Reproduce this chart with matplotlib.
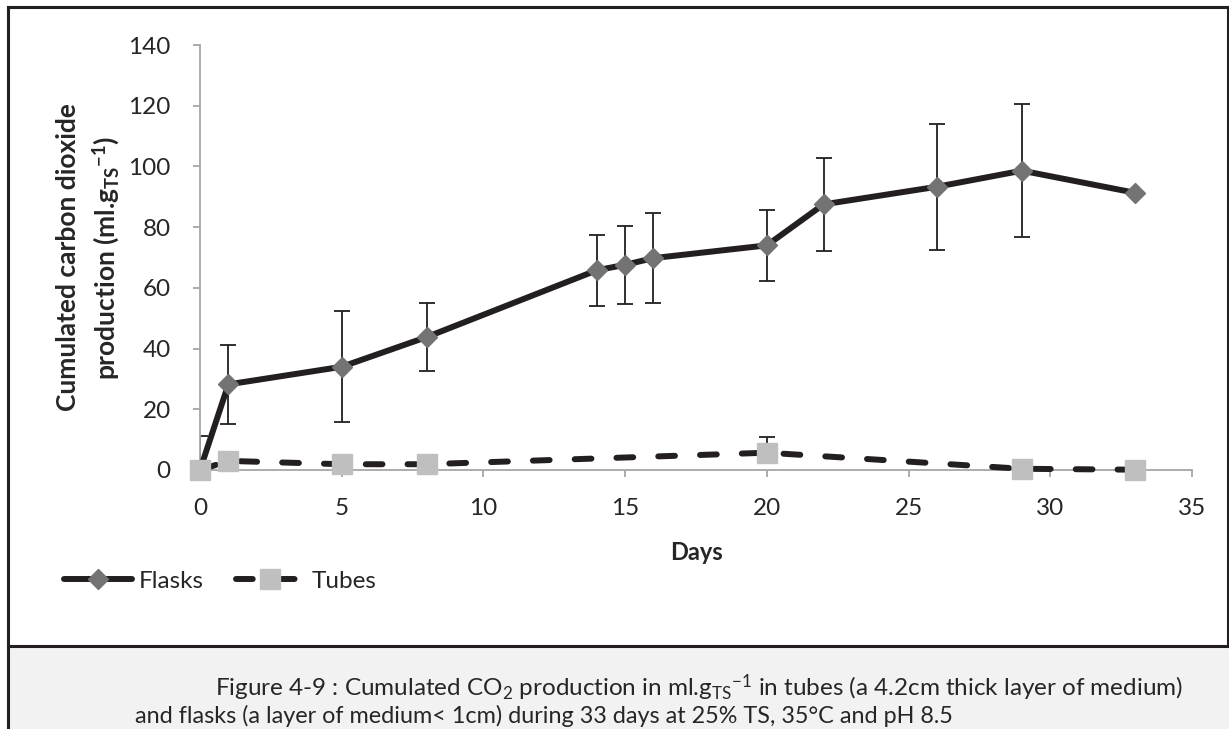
import matplotlib
matplotlib.use("Agg")
import matplotlib.pyplot as plt
from matplotlib.lines import Line2D
from matplotlib.patches import Rectangle

plt.rcParams['font.family'] = ['Lato', 'DejaVu Sans']
plt.rcParams['mathtext.fontset'] = 'custom'
plt.rcParams['mathtext.rm'] = 'Lato'
plt.rcParams['mathtext.it'] = 'Lato:italic'
plt.rcParams['mathtext.bf'] = 'Lato:bold'

# ---- data ----
flask_days = [0, 1, 5, 8, 14, 15, 16, 20, 22, 26, 29, 33]
flask_vals = [0, 28.2, 34.0, 43.8, 65.8, 67.6, 69.8, 74.0, 87.5, 93.3, 98.6, 91.3]
flask_err_lo = [11.2, 13.2, 18.3, 11.2, 11.8, 12.8, 14.8, 11.8, 15.3, 20.8, 22.0, 0]
flask_err_hi = [11.2, 13.0, 18.4, 11.2, 11.6, 12.7, 14.7, 11.7, 15.2, 20.8, 21.9, 0]

tube_days = [0, 1, 5, 8, 20, 29, 33]
tube_vals = [0, 3.0, 1.9, 1.9, 5.7, 0.4, 0.1]
tube_err_lo = [0, 0, 0, 0, 0, 0, 0]
tube_err_hi = [0, 0, 0, 0, 5.3, 0, 0]

xticks = [0, 5, 10, 15, 20, 25, 30, 35]
yticks = [0, 20, 40, 60, 80, 100, 120, 140]

W, H = 1229, 729
fig = plt.figure(figsize=(W / 100, H / 100), dpi=100)
fig.patch.set_facecolor('white')

# caption background and frame
fig.add_artist(Rectangle((8 / W, 0), (W - 8) / W, (H - 647) / H, transform=fig.transFigure,
                         facecolor='#f2f2f2', edgecolor='none', zorder=0))
lc = '#231f20'
fig.add_artist(Line2D([8 / W, 8 / W], [0, 1 - 7 / H], transform=fig.transFigure, color=lc, lw=2.2))
fig.add_artist(Line2D([8 / W, 1], [1 - 7 / H, 1 - 7 / H], transform=fig.transFigure, color=lc, lw=2.2))
fig.add_artist(Line2D([8 / W, 1], [1 - 646 / H, 1 - 646 / H], transform=fig.transFigure, color=lc, lw=2.2))
fig.add_artist(Line2D([1 - 1.5 / W, 1 - 1.5 / W], [1 - 646 / H, 1 - 7 / H], transform=fig.transFigure, color=lc, lw=2.2))

ax = fig.add_axes([200 / W, 1 - 470 / H, 992 / W, 425 / H])
ax.set_facecolor('none')

line_col = '#231f20'
ax.plot(flask_days, flask_vals, color=line_col, lw=4.3, marker='D', markersize=10.5,
        markerfacecolor='#737373', markeredgecolor='#737373', label='Flasks', zorder=3,
        clip_on=False, solid_capstyle='round')
ax.errorbar(flask_days, flask_vals, yerr=[flask_err_lo, flask_err_hi], fmt='none',
            ecolor='#231f20', elinewidth=1.3, capsize=6, capthick=1.3, zorder=2.5)
ax.errorbar(tube_days, tube_vals, yerr=[tube_err_lo, tube_err_hi], fmt='none',
            ecolor='#231f20', elinewidth=1.3, capsize=6, capthick=1.3, zorder=3.5)
ax.plot(tube_days, tube_vals, color=line_col, lw=4.3, dashes=(2.8, 4.2), dash_capstyle='round',
        marker='s', markersize=14.5, markerfacecolor='#bfbfbf', markeredgecolor='#bfbfbf',
        label='Tubes', zorder=4, clip_on=False)

ax.set_xlim(0, 35)
ax.set_ylim(0, 140)
ax.set_xticks(xticks)
ax.set_yticks(yticks)
for s in ['top', 'right']:
    ax.spines[s].set_visible(False)
for s in ['left', 'bottom']:
    ax.spines[s].set_color('#a6a6a6')
    ax.spines[s].set_linewidth(1.3)
ax.tick_params(axis='both', colors='#a6a6a6', length=5, width=1.3, direction='out',
               labelsize=17.5, labelcolor='#262626')
ax.tick_params(axis='y', pad=16)
ax.tick_params(axis='x', pad=15)

ax.set_xlabel('Days', fontsize=17, fontweight='bold', color='#262626', labelpad=16)
ax.set_ylabel('Cumulated carbon dioxide\nproduction (ml.' + r'$\mathbf{g}_{\mathbf{TS}}$' +
              r'$^{\mathbf{-1}}$' + ')', fontsize=19, fontweight='bold', color='#262626',
              multialignment='center', labelpad=5, linespacing=1.4)

leg = fig.legend(loc='center left', bbox_to_anchor=(42 / W, 1 - 581 / H), ncol=2, frameon=False,
                 fontsize=17.5, handlelength=2.8, handletextpad=0.3, columnspacing=1.3,
                 labelcolor='#262626')

cap_font = ['Lato', 'DejaVu Sans']
fig.text(215 / W, 1 - 688 / H,
         r'Figure 4-9 : Cumulated CO$_2$ production in ml.g$_{\mathrm{TS}}$$^{-1}$ in tubes (a 4.2cm thick layer of medium)',
         fontsize=17.5, family=cap_font, color='#262626', va='center', ha='left')
fig.text(135 / W, 1 - 716 / H,
         'and flasks (a layer of medium< 1cm) during 33 days at 25% TS, 35°C and pH 8.5',
         fontsize=16.8, family=cap_font, color='#262626', va='center', ha='left')

fig.savefig('out.png', dpi=100)
